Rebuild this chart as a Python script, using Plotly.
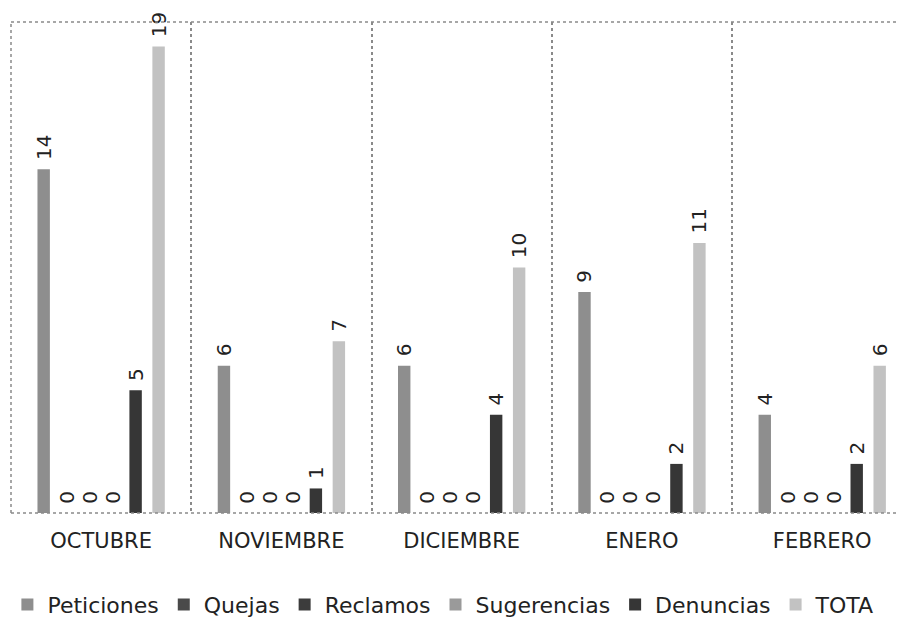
import plotly.graph_objects as go

categories = ["OCTUBRE", "NOVIEMBRE", "DICIEMBRE", "ENERO", "FEBRERO"]
series_names = ["Peticiones", "Quejas", "Reclamos", "Sugerencias", "Denuncias", "TOTA"]
peticiones = [14, 6, 6, 9, 4]
quejas = [0, 0, 0, 0, 0]
reclamos = [0, 0, 0, 0, 0]
sugerencias = [0, 0, 0, 0, 0]
denuncias = [5, 1, 4, 2, 2]
total = [19, 7, 10, 11, 6]

series_values = [peticiones, quejas, reclamos, sugerencias, denuncias, total]
colors = ["#8e8e8e", "#4a4a4a", "#3c3c3c", "#9a9a9a", "#363636", "#c2c2c2"]

FONT = "DejaVu Sans"

fig = go.Figure()
for name, vals, col in zip(series_names, series_values, colors):
    fig.add_trace(go.Bar(
        name=name, x=categories, y=vals,
        marker=dict(color=col, line=dict(width=0)),
        text=vals,
        texttemplate="\u00a0%{y}",
        textposition="outside",
        textangle=-90,
        constraintext="none",
        cliponaxis=False,
        textfont=dict(family=FONT, size=20, color="#222222"),
    ))

dot = dict(color="#8a8a8a", width=1.5, dash="dot")
fig.update_layout(
    width=904, height=623,
    margin=dict(l=3, r=0, t=14, b=118, autoexpand=False),
    paper_bgcolor="white", plot_bgcolor="white",
    barmode="group", bargap=0.235, bargroupgap=0.46,
    font=dict(family=FONT, color="#222222"),
    xaxis=dict(
        range=[-0.5, 4.498], tickson="boundaries", showgrid=True,
        gridcolor="#8a8a8a", griddash="dot", gridwidth=1.5,
        ticks="", showline=False, zeroline=False,
        tickfont=dict(family=FONT, size=21, color="#222222"),
        ticklabelstandoff=13,
    ),
    yaxis=dict(range=[0, 20], showgrid=False, showticklabels=False,
               ticks="", zeroline=False, showline=False),
    legend=dict(orientation="h", x=-0.004, xanchor="left", y=-0.187,
                yanchor="middle", font=dict(family=FONT, size=22, color="#222222"),
                itemwidth=30, traceorder="normal"),
    shapes=[
        dict(type="line", xref="paper", yref="paper", x0=0, x1=1, y0=1, y1=1, line=dot),
        dict(type="line", xref="paper", yref="paper", x0=0, x1=1, y0=0, y1=0, line=dot),
        dict(type="line", xref="paper", yref="paper", x0=0, x1=0, y0=0, y1=1, line=dot),
    ],
)

fig.write_html("out.html")
